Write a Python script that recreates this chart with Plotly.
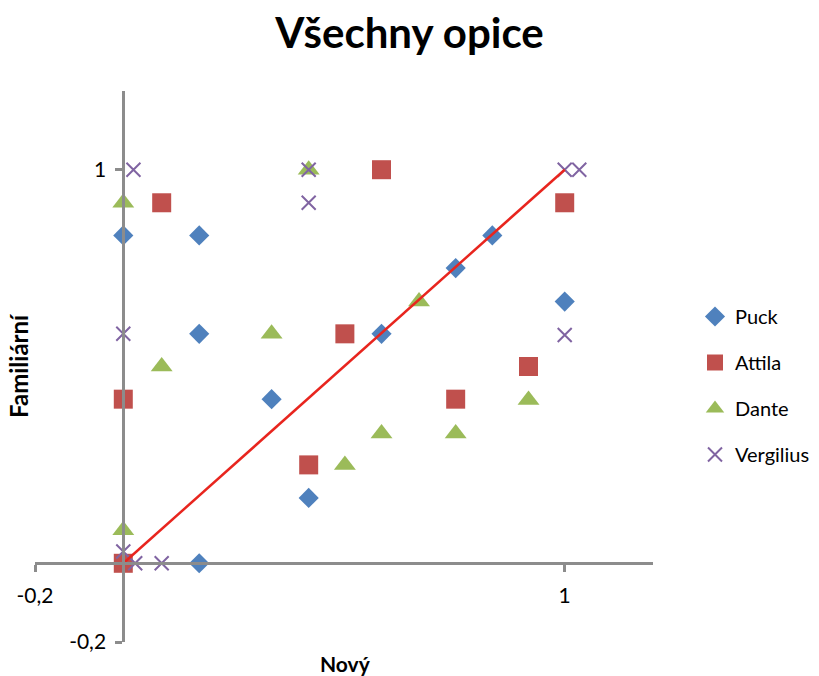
import plotly.graph_objects as go

# ---- data ----
puck_x = [0, 0.172, 0.172, 0.585, 0.836, 0.753, 1.0, 0.336, 0.42, 0.172]
puck_y = [0.833, 0.833, 0.583, 0.583, 0.833, 0.75, 0.665, 0.417, 0.166, 0]

attila_x = [0.585, 0.087, 0.502, 1.0, 0.918, 0, 0.42, 0, 0.753]
attila_y = [1, 0.916, 0.583, 0.916, 0.5, 0.417, 0.25, 0, 0.417]

dante_x = [0.42, 0, 0.336, 0.087, 0.67, 0.585, 0.502, 0, 0.918, 0.753]
dante_y = [1, 0.916, 0.583, 0.5, 0.665, 0.33, 0.25, 0.084, 0.415, 0.33]

vergilius_x = [0.023, 0.42, 0.42, 0, 1.0, 1.033, 1.0, 0, 0.027, 0.087]
vergilius_y = [1, 1, 0.916, 0.583, 1, 1, 0.58, 0.03, 0, 0]

line_x = [0, 1]
line_y = [0, 1]

tick_vals = [-0.2, 1]
tick_text = ["-0,2", "1"]

FONT = "Lato"

fig = go.Figure()

fig.add_trace(go.Scatter(x=puck_x, y=puck_y, mode="markers", name="Puck", legendgroup="a",
                         marker=dict(symbol="diamond", size=15.5, color="#4F81BD")))
fig.add_trace(go.Scatter(x=attila_x, y=attila_y, mode="markers", name="Attila", legendgroup="b",
                         marker=dict(symbol="square", size=19, color="#C0504D")))
fig.add_trace(go.Scatter(x=dante_x, y=dante_y, mode="markers", name="Dante", legendgroup="c",
                         marker=dict(symbol="triangle-up", size=19, color="#9BBB59")))
fig.add_trace(go.Scatter(x=vergilius_x, y=vergilius_y, mode="markers", name="Vergilius", legendgroup="d",
                         marker=dict(symbol="x-thin-open", size=14, color="#8064A2",
                                     line=dict(width=2, color="#8064A2"))))
fig.add_trace(go.Scatter(x=line_x, y=line_y, mode="lines", showlegend=False,
                         line=dict(color="#E8251E", width=2.5)))

axis_common = dict(
    showgrid=False, zeroline=False, showline=True, linecolor="#8C8C8C", linewidth=3,
    ticks="outside", ticklen=7, tickwidth=3, tickcolor="#8C8C8C",
    tickvals=tick_vals, ticktext=tick_text,
    tickfont=dict(family=FONT, size=21, color="#000000"),
    anchor="free", position=1/7, automargin=False,
)

fig.update_layout(
    width=819, height=676,
    margin=dict(l=35, r=166, t=91, b=34),
    paper_bgcolor="white", plot_bgcolor="white",
    separators=", ",
    font=dict(family=FONT, color="#000000"),
    title=dict(text="<b>Všechny opice</b>", x=0.5, xanchor="center", xref="container",
               y=1 - 33 / 676, yanchor="middle", yref="container",
               font=dict(family=FONT, size=42, color="#000000")),
    xaxis=dict(range=[-0.2, 1.2], ticklabelstandoff=6, **axis_common),
    yaxis=dict(range=[-0.2, 1.2], ticklabelstandoff=5, **axis_common),
    legend=dict(xref="container", yref="container", x=695 / 819, y=1 - 297 / 676,
                xanchor="left", yanchor="top", tracegroupgap=17,
                font=dict(family=FONT, size=20, color="#000000"),
                bgcolor="rgba(0,0,0,0)"),
    annotations=[
        dict(text="<b>Nový</b>", xref="paper", yref="paper",
             x=(345 - 35) / 618, y=(642 - 663) / 551, showarrow=False,
             xanchor="center", yanchor="middle",
             font=dict(family=FONT, size=21, color="#000000")),
        dict(text="<b>Familiární</b>", xref="paper", yref="paper",
             x=(18 - 35) / 618, y=(642 - 366) / 551, showarrow=False, textangle=-90,
             xanchor="center", yanchor="middle",
             font=dict(family=FONT, size=24, color="#000000")),
    ],
)

fig.write_html("out.html")
